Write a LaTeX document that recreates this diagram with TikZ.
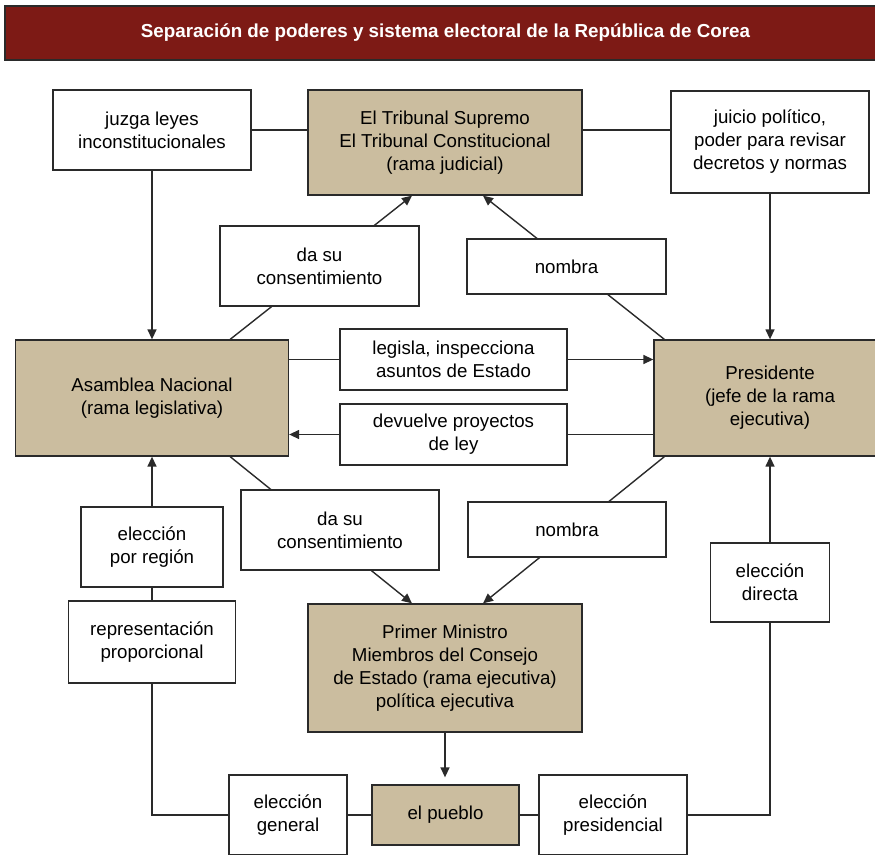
\documentclass[tikz,border=0pt]{standalone}
\usepackage{fontspec}
\setmainfont{Liberation Sans}
\usetikzlibrary{arrows.meta,backgrounds}
\definecolor{barred}{HTML}{7D1A15}
\definecolor{branch}{HTML}{CBBD9F}
\definecolor{edge}{HTML}{2A2A2A}
\begin{document}
\begin{tikzpicture}[x=1pt,y=-1pt,
  every node/.style={font=\fontsize{18.7}{23}\selectfont, align=center, inner sep=0pt, text=black},
  wbox/.style={draw=edge, line width=1.3pt, fill=white},
  tbox/.style={draw=edge, line width=1.3pt, fill=branch},
  link/.style={draw=edge, line width=1.4pt},
  arr/.style={link, -{Triangle[length=10pt,width=9pt]}}]
\useasboundingbox (0,0) rectangle (875,854);
\clip (0,0) rectangle (875,854);

% title bar
\node[draw=edge, line width=1.3pt, fill=barred, minimum width=881pt, minimum height=54pt,
      text=white, font=\bfseries\fontsize{18.8}{23}\selectfont] (title) at (445.5,33)
  {Separación de poderes y sistema electoral de la República de Corea};

% top row
\node[wbox, minimum width=198pt, minimum height=80pt] (juzga) at (152,130) {juzga leyes\\inconstitucionales};
\node[tbox, minimum width=274pt, minimum height=105pt] (trib) at (445,142.5) {El Tribunal Supremo\\El Tribunal Constitucional\\(rama judicial)};
\node[wbox, minimum width=198pt, minimum height=102pt] (juicio) at (770,142) {juicio político,\\poder para revisar\\decretos y normas};

% upper labels
\node[wbox, minimum width=199pt, minimum height=80pt] (dasuA) at (319.5,266) {da su\\consentimiento};
\node[wbox, minimum width=199pt, minimum height=55pt] (nombraA) at (566.5,266.5) {nombra};

% middle row
\node[tbox, minimum width=273pt, minimum height=116pt] (asamblea) at (152,398) {Asamblea Nacional\\(rama legislativa)};
\node[wbox, minimum width=227pt, minimum height=61pt] (legisla) at (453.5,359.5) {legisla, inspecciona\\asuntos de Estado};
\node[wbox, minimum width=227pt, minimum height=61pt] (devuelve) at (453.5,434.5) {devuelve proyectos\\de ley};
\node[tbox, minimum width=232pt, minimum height=116pt] (pres) at (770,398) {Presidente\\(jefe de la rama\\ejecutiva)};

% lower labels
\node[wbox, minimum width=142pt, minimum height=80pt] (region) at (152,547) {elección\\por región};
\node[wbox, minimum width=198pt, minimum height=80pt] (dasuB) at (340,530) {da su\\consentimiento};
\node[wbox, minimum width=198pt, minimum height=55pt] (nombraB) at (567,529.5) {nombra};
\node[wbox, minimum width=119pt, minimum height=79pt] (directa) at (770,582.5) {elección\\directa};
\node[wbox, minimum width=167pt, minimum height=82pt] (repr) at (152,642) {representación\\proporcional};
\node[tbox, minimum width=274pt, minimum height=128pt] (pm) at (445,668) {Primer Ministro\\Miembros del Consejo\\de Estado (rama ejecutiva)\\política ejecutiva};

% bottom row
\node[wbox, minimum width=118pt, minimum height=80pt] (general) at (288,815) {elección\\general};
\node[tbox, minimum width=147pt, minimum height=60pt] (pueblo) at (445.5,815) {el pueblo};
\node[wbox, minimum width=148pt, minimum height=80pt] (presid) at (613,815) {elección\\presidencial};

\begin{pgfonlayer}{background}
  % judiciary links
  \draw[link] (juzga.east) -- (juzga.east -| trib.west);
  \draw[link] (juzga.east -| trib.east) -- (juzga.east -| juicio.west);
  \draw[arr] (juzga.south) -- (juzga.south |- asamblea.north);
  \draw[arr] (juicio.south) -- (juicio.south |- pres.north);
  % consent and appointment of the court
  \draw[arr] ([xshift=-59pt]asamblea.north east) -- ([xshift=-33pt]trib.south);
  \draw[arr] ([xshift=11pt]pres.north west) -- ([xshift=38pt]trib.south);
  % legislature and president
  \draw[link] (legisla.west -| asamblea.east) -- (legisla.west);
  \draw[arr] (legisla.east) -- (legisla.east -| pres.west);
  \draw[link] (devuelve.east -| pres.west) -- (devuelve.east);
  \draw[arr] (devuelve.west) -- (devuelve.west -| asamblea.east);
  % consent and appointment of the cabinet
  \draw[arr] ([xshift=-59pt]asamblea.south east) -- ([xshift=-33pt]pm.north);
  \draw[arr] ([xshift=11pt]pres.south west) -- ([xshift=38pt]pm.north);
  % elections
  \draw[link] (repr.north) -- (region.south);
  \draw[arr] (region.north) -- (region.north |- asamblea.south);
  \draw[link] (repr.south) |- (general.west);
  \draw[link] (general.east) -- (pueblo.west);
  \draw[link] (pueblo.east) -- (presid.west);
  \draw[link] (presid.east) -| (directa.south);
  \draw[arr] (directa.north) -- (directa.north |- pres.south);
  \draw[arr, shorten >=7pt] (pm.south) -- (pm.south |- pueblo.north);
\end{pgfonlayer}
\end{tikzpicture}
\end{document}
